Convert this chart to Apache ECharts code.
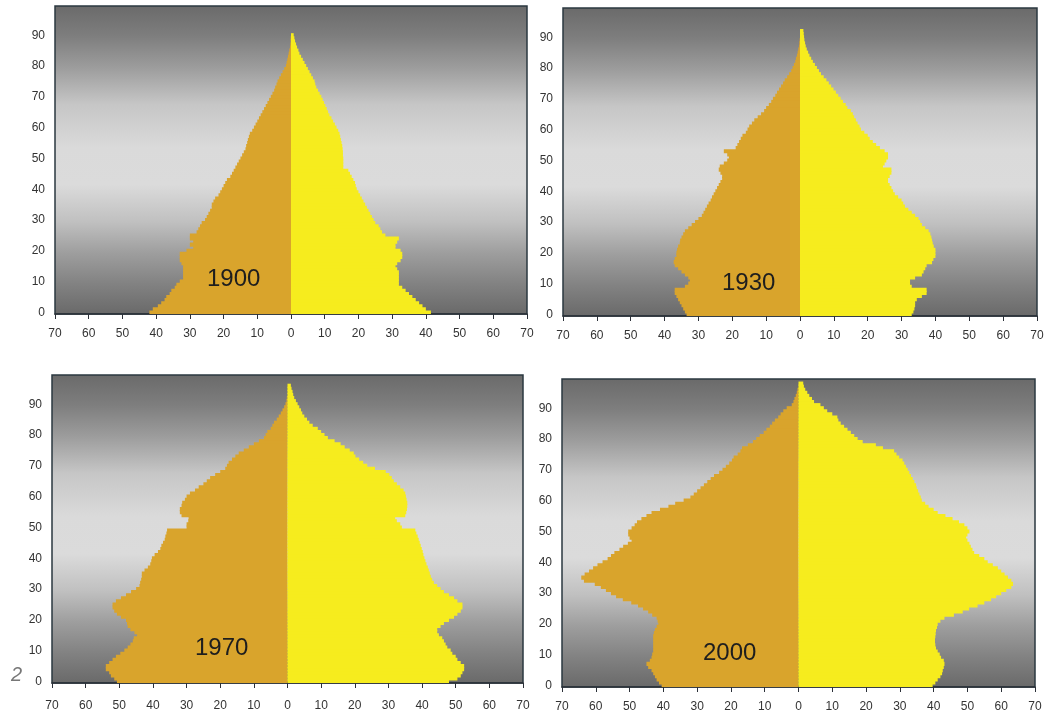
<!DOCTYPE html>
<html>
<head>
<meta charset="utf-8">
<script src="https://cdn.jsdelivr.net/npm/echarts@6/dist/echarts.min.js"></script>
<style>
html,body{margin:0;padding:0;background:#ffffff;}
#chart{width:1048px;height:717px;}
</style>
</head>
<body>
<div id="chart"></div>
<script>
// ages 0..99
var ages = [];
for (var a = 0; a < 100; a++) ages.push(String(a));

var years = ['1900', '1930', '1970', '2000'];

var male1900 = [
42,41,39.5,38.5,37.5,37,36,35.5,34.5,34,
33,32,32,32,32,32,32.5,33,33,33,
31,29,30,29,30,30,28,27.5,27,26.5,
25.5,25,24.5,24,23.5,23.5,23,22.5,21.5,21,
20.5,20,19.5,19,18,17.5,17,16.5,16,15.5,
15,14.5,14,13.5,13.3,13,12.8,12.5,12.2,11.5,
11,10.5,10,9.5,9,8.5,8,7.5,7,6.5,
6,5.5,5,4.7,4.3,4,3.5,3,2.5,2,
1.5,1.3,1.1,0.9,0.7,0.5,0.3,0.2,0.1,0.1,
0,0,0,0,0,0,0,0,0,0];
var female1900 = [
41.5,40,39,38,37,36,35,34,33,32,
32,32,32,32,31.5,31,31.5,32.5,33,33,
32.5,31,31,31.5,32,28,27,26.5,26,25,
24.5,24,23.5,23,22.5,22,21.5,21,20.5,20,
19.5,19.2,19,18.5,18,17.5,17,15.5,15.5,15.5,
15.5,15.4,15.4,15.3,15.2,15,14.8,14.6,14.4,14,
13.5,13,12.5,12,11.4,11,10.6,10.2,9.8,9.4,
9,8.5,8,7.5,7.2,7,6.5,6,5.5,5,
4.5,4,3.5,3,2.5,2.2,1.8,1.5,1.2,1,
0.8,0,0,0,0,0,0,0,0,0];
var male1930 = [
33.5,34,34.5,35,35.5,36,36.5,37,37,34,
33,32.5,33,34,35,36,37,37.3,37,36.5,
36.5,36.3,36,35.5,35.4,35,34.5,34,33,32,
31,30,29,28.5,28,27.5,27,26.4,26,25.5,
25,24.5,24,23.5,23,23,23.5,24,23.7,22.5,
21.5,21,21.5,22.5,19,18.5,18,17.5,17,16,
15.5,15,14.2,13.5,12.5,11.5,10.6,10,9.2,8.5,
8,7.3,6.8,6.2,5.6,5,4.5,3.8,3.2,2.6,
2.2,1.8,1.4,1.2,0.9,0.7,0.5,0.3,0.2,0.1,
0,0,0,0,0,0,0,0,0,0];
var female1930 = [
33,33.5,33.8,34,34,34.5,36,37.4,37.4,33,
32.5,32.5,34,36,36.5,37,37.4,39,39.4,40,
40,40,39.5,39.2,39,38.8,38.5,38,37,36,
35.5,35,34,33,32,31,30.5,30,29,28,
27.5,27,26.5,26,26,26.5,27,27,24.5,25,
25.5,26,26,25,23.6,22.5,21.5,20.6,20,19,
18,17.6,17,16.5,16,15.6,15,14,13.5,12.7,
12,11.3,10.6,9.9,9.2,8.5,7.8,7,6.2,5.6,
5,4.4,3.8,3.3,2.8,2.4,2,1.7,1.5,1.3,
1.2,1.1,1,0,0,0,0,0,0,0];
var male1970 = [
50.7,51.5,52.5,53,54,54,53,52,51,49.7,
48.5,47.5,46.7,46,45.7,44.7,45.5,46.7,47.5,47.7,
48,49.5,50.7,51.5,52,52,51,49.5,48,46.5,
45,44,43.8,43.5,43.3,43.3,42.5,41.5,40.8,40.5,
40.3,39.5,38.5,37.8,37.5,37,36.5,36.3,36,35.8,
30,30,29.5,29.4,31.5,32,32,31.5,31.3,30.5,
30,29,27.5,26.4,25,24,23,21.5,20,18.5,
18,17.5,16.5,15.5,14.5,13,11.5,10,8.5,7,
6.5,6,5,4.5,4,3.2,2.6,2,1.5,1,
0.6,0.3,0.2,0,0,0,0,0,0,0];
var female1970 = [
48,50.5,51.5,52,52.5,52.5,51.5,50.5,50,49,
48.5,47.5,47,46.5,46,45,44.5,44.5,45.5,46.5,
48,49.5,50.5,51.5,52,52,50.5,49.5,48,46.5,
45.5,44.5,43.5,43,42.6,42.3,42,41.7,41.3,41,
40.7,40.4,40.2,39.9,39.6,39.3,39,38.7,38.3,38,
34,33.5,32.5,32,35,35.3,35.5,35.6,35.6,35.4,
35.2,35,34.5,33.5,32.5,31.6,31,30.3,29.2,26,
23.7,22.5,21.3,20.2,19.7,18.5,17,15.8,14,12,
11,10,9,7.5,6.5,5.8,5,4.4,4,3.5,
3,2.5,2,1.7,1.5,1.2,1,0,0,0];
var male2000 = [
40.5,41.3,42,42.5,43,43.5,44.5,45,44,43.5,
43.3,43,43,43,43,43,43,42.8,42.5,42,
41.5,41.7,42,43.3,44.5,46,47.5,49.5,52,54,
55.5,57,58.5,60.3,63.5,64.3,63.3,62,60.8,59.5,
58,56.5,55.5,54.5,53,51.9,50.5,49.4,50,50.4,
50.4,49.4,48.5,47.8,46.5,45,43.5,41,38.5,36.5,
34,32,31,30,29,28,27,26,25,23.5,
22.5,21.5,20.5,19.7,19.2,18,17.2,16.7,15,13.5,
12.5,11.5,10.3,9.5,8.5,7.8,7,6,5.3,4.5,
3.5,2,1.5,1.2,0.8,0.5,0.3,0,0,0];
var female2000 = [
39.7,40.5,41.2,42,42.5,42.7,43,43.2,43,42.2,
41.8,41.2,40.7,40.5,40.4,40.4,40.5,40.6,40.7,41,
41.2,42,43.2,46,48.6,50.5,53,55,57,58.5,
60,61.5,63,63.5,63,62,61,60,59,57.5,
56,55,53.5,52,51.5,51,50.6,50,49.6,50,
50.6,50,49.1,47.5,45.6,43.5,41.2,40,38.5,37.5,
36.5,36.2,35.8,35.4,35,34.8,34.3,33.8,33.3,32.8,
32.3,31.8,31.3,30.8,29.8,29,28.3,25,22.9,19,
17.5,16.5,15.5,14.5,13.5,12.5,11.8,11.5,10,8.5,
7.5,6.5,4.6,4,3.2,2.6,2,1.6,1.4,0];

var maleData = [male1900, male1930, male1970, male2000];
var femaleData = [female1900, female1930, female1970, female2000];

var maleColor = '#D9A42C';
var femaleColor = '#F6EC1E';
var labelFont = "'Liberation Sans',Arial,sans-serif";

var grids = [
  {left: 55, top: 6, right: 521, bottom: 403},
  {left: 563, top: 8, right: 11, bottom: 401},
  {left: 52, top: 375, right: 525, bottom: 34},
  {left: 562, top: 379, right: 13, bottom: 30}
];
var xLabelMargin = [14, 14, 17, 14];
var yearPos = [[207, 279], [722, 283], [195, 648], [703, 653]];

var bgGrad = {
  type: 'linear', x: 0, y: 0, x2: 0, y2: 1,
  colorStops: [
    {offset: 0, color: '#6a6a6a'},
    {offset: 0.1, color: '#7e7e7e'},
    {offset: 0.2, color: '#9c9c9c'},
    {offset: 0.32, color: '#c6c6c6'},
    {offset: 0.46, color: '#dadada'},
    {offset: 0.58, color: '#dbdbdb'},
    {offset: 0.7, color: '#c0c0c0'},
    {offset: 0.8, color: '#9e9e9e'},
    {offset: 0.9, color: '#828282'},
    {offset: 1, color: '#696969'}
  ]
};

var option = {
  backgroundColor: '#ffffff',
  animation: false,
  grid: [], xAxis: [], yAxis: [], series: [], graphic: []
};

for (var i = 0; i < 4; i++) {
  var g = grids[i];
  option.grid.push({
    left: g.left, top: g.top, right: g.right, bottom: g.bottom,
    show: true, backgroundColor: bgGrad, borderColor: '#2b3840', borderWidth: 1.5
  });
  option.xAxis.push({
    type: 'value', gridIndex: i, min: -70, max: 70, interval: 10,
    splitLine: {show: false},
    axisLine: {show: true, onZero: false, lineStyle: {color: '#2b3038', width: 1.5}},
    axisTick: {show: true, length: 5, lineStyle: {color: '#2b3038', width: 1}},
    axisLabel: {
      color: '#333', fontSize: 12, fontFamily: labelFont, margin: xLabelMargin[i],
      formatter: function (v) { return String(Math.abs(v)); }
    }
  });
  option.yAxis.push({
    type: 'category', gridIndex: i, data: ages,
    axisLine: {show: false}, axisTick: {show: false}, splitLine: {show: false},
    axisLabel: {interval: 9, color: '#333', fontSize: 12, fontFamily: labelFont, margin: 10}
  });
  option.series.push({
    type: 'bar', name: 'male ' + years[i], xAxisIndex: i, yAxisIndex: i,
    data: maleData[i].map(function (v) { return -v; }),
    barGap: '-100%', barWidth: '135%',
    itemStyle: {color: maleColor}
  });
  option.series.push({
    type: 'bar', name: 'female ' + years[i], xAxisIndex: i, yAxisIndex: i,
    data: femaleData[i],
    barGap: '-100%', barWidth: '135%',
    itemStyle: {color: femaleColor}
  });
  option.graphic.push({
    type: 'text', left: yearPos[i][0], top: yearPos[i][1] - 12, z: 100,
    style: {text: years[i], fill: '#1e1e1e', fontSize: 24, fontFamily: "'Liberation Sans',Arial,sans-serif"}
  });
}
option.graphic.push({
  type: 'text', left: 11, top: 665, z: 100,
  style: {text: '2', fill: '#777', fontSize: 20, fontStyle: 'italic', fontFamily: "'Liberation Sans',Arial,sans-serif"}
});

var chart = echarts.init(document.getElementById('chart'), null, {renderer: 'canvas'});
chart.setOption(option);
</script>
</body>
</html>
